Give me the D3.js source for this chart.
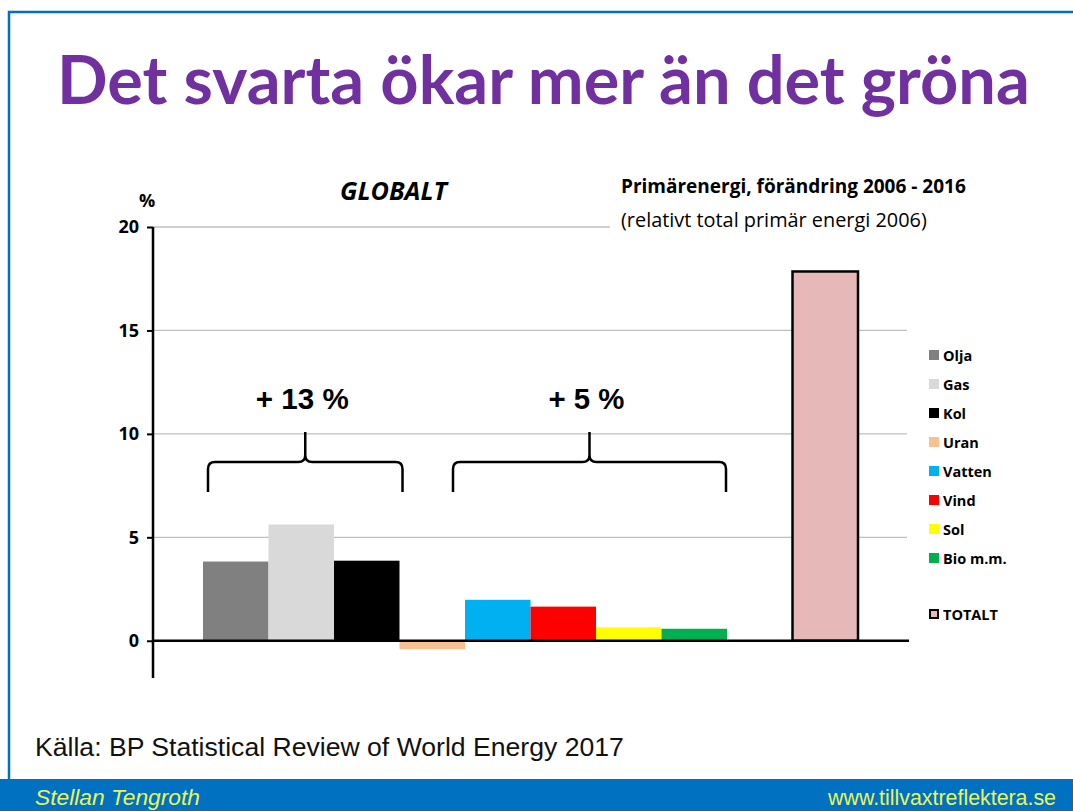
<!DOCTYPE html>
<html>
<head>
<meta charset="utf-8">
<script src="https://cdn.jsdelivr.net/npm/d3@7"></script>
<style>
  body { margin: 0; background: #fff; }
  svg { display: block; }
</style>
</head>
<body>
<svg id="slide" width="1073" height="811"></svg>
<script>
// energy sources, change 2006 - 2016 in % of total primary energy 2006
var categories = ["Olja", "Gas", "Kol", "Uran", "Vatten", "Vind", "Sol", "Bio m.m.", "TOTALT"];
var values = [3.83, 5.62, 3.87, -0.40, 1.98, 1.65, 0.65, 0.58, 17.85];
var colors = ["#808080", "#D9D9D9", "#000000", "#FAC090", "#00B0F0", "#FF0000", "#FFFF00", "#00B050", "#E6B9B8"];
var yTicks = [0, 5, 10, 15, 20];
var braces = [
    {from: "Olja", to: "Kol", label: "+ 13 %", labelWidth: 93},
    {from: "Vatten", to: "Bio m.m.", label: "+ 5 %", labelWidth: 76}
];

var svg = d3.select("#slide");

// shrink/grow a text so that it spans a given width
function fitText(sel, width) {
    var size = parseFloat(sel.style("font-size"));
    var w = sel.node().getComputedTextLength();
    sel.style("font-size", (size * width / w) + "px");
}

// slide frame + footer band
svg.append("rect")
    .attr("x", 9).attr("y", 12)
    .attr("width", 1080).attr("height", 780)
    .attr("fill", "none")
    .attr("stroke", "#0070C0")
    .attr("stroke-width", 2.5);

svg.append("rect")
    .attr("x", 0).attr("y", 779)
    .attr("width", 1073).attr("height", 32)
    .attr("fill", "#0070C0");

var title = svg.append("text")
    .attr("x", 57).attr("y", 104)
    .style("font-family", "Lato, 'Open Sans', sans-serif")
    .style("font-weight", "bold")
    .style("font-size", "58px")
    .attr("fill", "#7030A0")
    .text("Det svarta ökar mer än det gröna");
fitText(title, 973);

// scales
var slots = categories.slice(0, 8).concat(["gap"], categories.slice(8));
var xScale = d3.scaleBand()
    .domain(slots)
    .range([203, 858])
    .paddingInner(0);

var yScale = d3.scaleLinear()
    .domain([-1.8, 20])
    .range([678, 227]);

var axisX = 153,
    gridRight = 907;

// gridlines
var grid = svg.append("g");
grid.selectAll("line")
    .data(yTicks.filter(function (d) { return d > 0; }))
    .enter()
    .append("line")
    .attr("x1", axisX)
    .attr("x2", function (d) { return d === 20 ? 610 : gridRight; })
    .attr("y1", function (d) { return yScale(d); })
    .attr("y2", function (d) { return yScale(d); })
    .attr("stroke", "#BFBFBF")
    .attr("stroke-width", 1.3);

// bars
var data = categories.map(function (c, i) {
    return {name: c, value: values[i], color: colors[i]};
});

svg.append("g").selectAll("rect")
    .data(data)
    .enter()
    .append("rect")
    .attr("x", function (d) { return xScale(d.name); })
    .attr("width", xScale.bandwidth())
    .attr("y", function (d) { return yScale(Math.max(0, d.value)); })
    .attr("height", function (d) { return Math.abs(yScale(d.value) - yScale(0)); })
    .attr("fill", function (d) { return d.color; })
    .attr("stroke", function (d) { return d.name === "TOTALT" ? "#000" : "none"; })
    .attr("stroke-width", 2.5);

// y axis
var yAxis = d3.axisLeft(yScale)
    .tickValues(yTicks)
    .tickSize(6)
    .tickPadding(8)
    .tickFormat(d3.format("d"));

var yAxisG = svg.append("g")
    .attr("transform", "translate(" + axisX + ",0)")
    .call(yAxis);
yAxisG.select(".domain").remove();
yAxisG.selectAll(".tick line").attr("stroke", "#000").attr("stroke-width", 2);
yAxisG.selectAll(".tick text")
    .style("font-family", "'Open Sans', Lato, sans-serif")
    .style("font-weight", "bold")
    .style("font-size", "18px")
    .attr("fill", "#000");

svg.append("line")
    .attr("x1", axisX).attr("x2", axisX)
    .attr("y1", yScale(20)).attr("y2", yScale(-1.8))
    .attr("stroke", "#000").attr("stroke-width", 2.5);

svg.append("line")
    .attr("x1", axisX).attr("x2", gridRight + 2)
    .attr("y1", yScale(0)).attr("y2", yScale(0))
    .attr("stroke", "#000").attr("stroke-width", 2.5);

svg.append("text")
    .attr("x", 147).attr("y", 207)
    .attr("text-anchor", "middle")
    .style("font-family", "'Open Sans', Lato, sans-serif")
    .style("font-weight", "bold")
    .style("font-size", "18px")
    .text("%");

// headings inside chart
var globalt = svg.append("text")
    .attr("x", 340).attr("y", 200)
    .style("font-family", "'Open Sans', Lato, sans-serif")
    .style("font-weight", "bold")
    .style("font-style", "italic")
    .style("font-size", "22px")
    .text("GLOBALT");
fitText(globalt, 107);

var sub1 = svg.append("text")
    .attr("x", 621).attr("y", 193)
    .style("font-family", "'Open Sans', Lato, sans-serif")
    .style("font-weight", "bold")
    .style("font-size", "16px")
    .text("Primärenergi, förändring 2006 - 2016");
fitText(sub1, 345);

var sub2 = svg.append("text")
    .attr("x", 621).attr("y", 227)
    .style("font-family", "'Open Sans', Lato, sans-serif")
    .style("font-size", "16px")
    .text("(relativt total primär energi 2006)");
fitText(sub2, 306);

// curly braces
function bracePath(x1, x2, yTop, yMid, yBot) {
    var cx = (x1 + x2) / 2, r = 7;
    return "M" + x1 + "," + yBot +
        "L" + x1 + "," + (yMid + r) +
        "Q" + x1 + "," + yMid + " " + (x1 + r) + "," + yMid +
        "L" + (cx - r) + "," + yMid +
        "Q" + cx + "," + yMid + " " + cx + "," + (yMid - r) +
        "L" + cx + "," + yTop +
        "M" + cx + "," + (yMid - r) +
        "Q" + cx + "," + yMid + " " + (cx + r) + "," + yMid +
        "L" + (x2 - r) + "," + yMid +
        "Q" + x2 + "," + yMid + " " + x2 + "," + (yMid + r) +
        "L" + x2 + "," + yBot;
}

braces.forEach(function (b, i) {
    var x1 = i === 0 ? xScale(b.from) + 5 : xScale(b.from) - 12;
    var x2 = xScale(b.to) + xScale.bandwidth() - (i === 0 ? -3 : 1);
    svg.append("path")
        .attr("d", bracePath(x1, x2, 432, 462, 492))
        .attr("fill", "none")
        .attr("stroke", "#000")
        .attr("stroke-width", 2.5);
    var lbl = svg.append("text")
        .attr("x", (x1 + x2) / 2 - 3).attr("y", 409)
        .attr("text-anchor", "middle")
        .style("font-family", "'Liberation Sans Narrow', 'Liberation Sans', Arial, sans-serif")
        .style("font-weight", "bold")
        .style("font-size", "29px")
        .text(b.label);
    fitText(lbl, b.labelWidth);
});

// legend
var legendY = [355, 384, 413, 442, 471, 500, 529, 558, 614];
var legend = svg.append("g").selectAll("g")
    .data(data)
    .enter()
    .append("g")
    .attr("transform", function (d, i) { return "translate(929," + legendY[i] + ")"; });

legend.append("rect")
    .attr("x", function (d) { return d.name === "TOTALT" ? 1 : 0; })
    .attr("y", function (d) { return d.name === "TOTALT" ? -4 : -5; })
    .attr("width", function (d) { return d.name === "TOTALT" ? 8 : 10; })
    .attr("height", function (d) { return d.name === "TOTALT" ? 8 : 10; })
    .attr("fill", function (d) { return d.color; })
    .attr("stroke", function (d) { return d.name === "TOTALT" ? "#000" : "none"; })
    .attr("stroke-width", 2);

legend.append("text")
    .attr("x", 14).attr("y", 5.5)
    .style("font-family", "'Open Sans', Lato, sans-serif")
    .style("font-weight", "bold")
    .style("font-size", "14.5px")
    .text(function (d) { return d.name; });

// footer texts
var source = svg.append("text")
    .attr("x", 35).attr("y", 756)
    .style("font-family", "'Liberation Sans', Arial, sans-serif")
    .style("font-size", "20px")
    .attr("fill", "#111")
    .text("Källa: BP Statistical Review of World Energy 2017");
fitText(source, 589);

var author = svg.append("text")
    .attr("x", 35).attr("y", 805)
    .style("font-family", "'Liberation Sans', Arial, sans-serif")
    .style("font-style", "italic")
    .style("font-size", "20px")
    .attr("fill", "#E8F55A")
    .text("Stellan Tengroth");
fitText(author, 165);

var site = svg.append("text")
    .attr("x", 1056).attr("y", 805)
    .attr("text-anchor", "end")
    .style("font-family", "'Liberation Sans', Arial, sans-serif")
    .style("font-size", "20px")
    .attr("fill", "#E8F55A")
    .text("www.tillvaxtreflektera.se");
fitText(site, 228);
</script>
</body>
</html>
